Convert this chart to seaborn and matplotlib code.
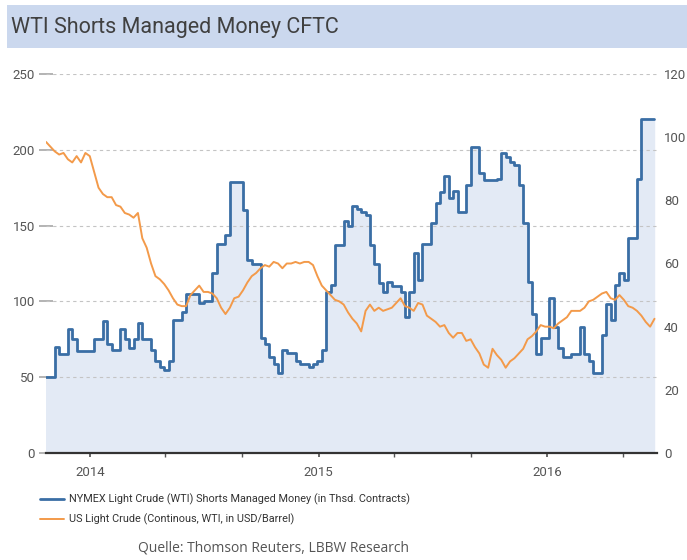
import numpy as np
import pandas as pd
import matplotlib
matplotlib.use('Agg')
import matplotlib.pyplot as plt
import matplotlib.dates as mdates
from matplotlib.patches import Rectangle
import seaborn as sns

# weekly CFTC data (left axis, thsd. contracts) and WTI price (right axis, USD/barrel)
dates = pd.date_range('2013-10-22', periods=140, freq='7D')

shorts = [50, 50, 70, 65, 65, 82, 75, 67, 67, 67,
          67, 75, 75, 87, 72, 68, 68, 82, 75, 69,
          75, 86, 75, 75, 68, 61, 57, 55, 61, 88,
          88, 93, 105, 105, 105, 99, 100, 100, 119, 138,
          138, 144, 179, 179, 179, 160, 127, 125, 125, 76,
          72, 63, 59, 53, 68, 66, 66, 61, 59, 59,
          57, 59, 61, 68, 106, 111, 137, 137, 153, 150,
          163, 161, 159, 157, 137, 125, 112, 106, 113, 110,
          110, 106, 90, 106, 132, 114, 138, 138, 152, 165,
          172, 183, 168, 173, 159, 159, 177, 202, 202, 185,
          180, 180, 180, 181, 198, 195, 192, 190, 177, 152,
          113, 92, 65, 76, 76, 102, 83, 69, 63, 63,
          65, 65, 83, 65, 61, 53, 53, 78, 98, 88,
          111, 119, 114, 142, 142, 181, 220, 220, 220, 220]

wti = [98.5, 97, 95.5, 94.5, 95, 93, 92, 94, 92, 95,
       94, 89, 84, 82, 81, 81, 78.5, 78, 76, 75.5,
       74.5, 76, 68, 65, 60, 56, 55, 53.5, 51.5, 49,
       47, 46.5, 46.5, 50, 51.5, 53, 51, 51, 50.5, 49,
       46, 44, 46, 49, 49.5, 51.5, 54, 56, 57, 58.5,
       59.5, 59, 60.5, 60, 58.5, 60, 60, 60.5, 60, 60.5,
       60.5, 59.5, 56, 53, 51.5, 50, 48.5, 48, 47, 44.5,
       42.5, 41, 38.5, 45, 47, 45, 46, 45, 45.5, 46,
       47.5, 49, 46.5, 46, 45, 47.5, 47, 43.5, 42.5, 41.5,
       40, 40.5, 38, 36.5, 38, 38, 35.5, 36, 33.5, 31.5,
       28, 27, 33, 31, 29.5, 27, 29, 30, 31.5, 33,
       36, 37, 38.5, 40.5, 40, 40, 39.5, 41, 42, 43,
       45, 45, 45, 46, 48, 48.5, 49.5, 50.5, 51, 49,
       48.5, 50, 48.5, 46.5, 46, 45, 43.5, 41.5, 40, 42.5]

df = pd.DataFrame({'date': dates, 'shorts': shorts, 'wti': wti})

left_ticks = [0, 50, 100, 150, 200, 250]
right_ticks = [0, 20, 40, 60, 80, 100, 120]

sns.set_theme(style='white')
plt.rcParams['font.family'] = 'sans-serif'
plt.rcParams['font.sans-serif'] = ['Liberation Sans Narrow', 'Roboto', 'DejaVu Sans']

blue = '#3a6ea5'
orange = '#f39a4a'
tick_col = '#555555'

fig = plt.figure(figsize=(6.87, 5.6), dpi=100)
ax = fig.add_axes([46 / 687, 1 - 453 / 560, 611 / 687, 379 / 560])

# title bar
fig.patches.append(Rectangle((7 / 687, 1 - 48 / 560), 1, 43 / 560, transform=fig.transFigure,
                             facecolor='#cbd8ee', edgecolor='none', zorder=0))
fig.text(11 / 687, 1 - 28 / 560, 'WTI Shorts Managed Money CFTC', fontsize=15.5,
         color='#404040', va='center', ha='left')

# blue area + step line
ax.fill_between(df['date'], df['shorts'], 0, step='post', color='#e3eaf5', zorder=1)
sns.lineplot(data=df, x='date', y='shorts', ax=ax, color=blue, linewidth=2,
             drawstyle='steps-post', zorder=3,
             label='NYMEX Light Crude (WTI) Shorts Managed Money (in Thsd. Contracts)')
ax.set_ylim(0, 250)
ax.set_yticks(left_ticks)
ax.set_xlim(pd.Timestamp('2013-10-22'), pd.Timestamp('2016-06-25'))
for v in left_ticks[1:]:
    ax.axhline(v, color='#c4c4c4', linewidth=0.8, linestyle=(0, (3, 3)), zorder=2)

ax2 = ax.twinx()
sns.lineplot(data=df, x='date', y='wti', ax=ax2, color=orange, linewidth=1.4, zorder=4,
             label='US Light Crude (Continous, WTI, in USD/Barrel)')
ax2.set_ylim(0, 120)
ax2.set_yticks(right_ticks)

for a in (ax, ax2):
    for s in ('top', 'left', 'right'):
        a.spines[s].set_visible(False)
    a.set_xlabel('')
    a.set_ylabel('')
ax.spines['bottom'].set_visible(True)
ax.spines['bottom'].set_color('#333333')
ax.spines['bottom'].set_linewidth(1.6)
ax2.spines['bottom'].set_visible(False)

ax.xaxis.set_major_locator(mdates.YearLocator())
ax.xaxis.set_major_formatter(mdates.DateFormatter('%Y'))
ax.xaxis.set_minor_locator(mdates.MonthLocator(bymonth=[1, 5, 9]))
ax.tick_params(axis='x', which='both', bottom=True, length=3, color='#555555',
               labelsize=9.5, labelcolor=tick_col, pad=6)
ax.tick_params(axis='y', left=True, direction='inout', length=10, color='#aaaaaa',
               labelsize=9.5, labelcolor=tick_col, pad=3)
ax2.tick_params(axis='y', right=False, length=0,
                labelsize=9.5, labelcolor=tick_col, pad=5)

# legend from both axes
h1, l1 = ax.get_legend_handles_labels()
h2, l2 = ax2.get_legend_handles_labels()
ax.get_legend().remove()
ax2.get_legend().remove()
fig.legend(h1 + h2, l1 + l2, loc='upper left', bbox_to_anchor=(30 / 687, 1 - 484 / 560),
           frameon=False, fontsize=7.8, handlelength=2.2, labelspacing=0.75,
           handletextpad=0.5, labelcolor='#333333')

fig.text(273 / 687, 1 - 548 / 560, 'Quelle: Thomson Reuters, LBBW Research', fontsize=10,
         color='#555555', ha='center', va='center', family='Open Sans')

fig.savefig('out.png', dpi=100)
